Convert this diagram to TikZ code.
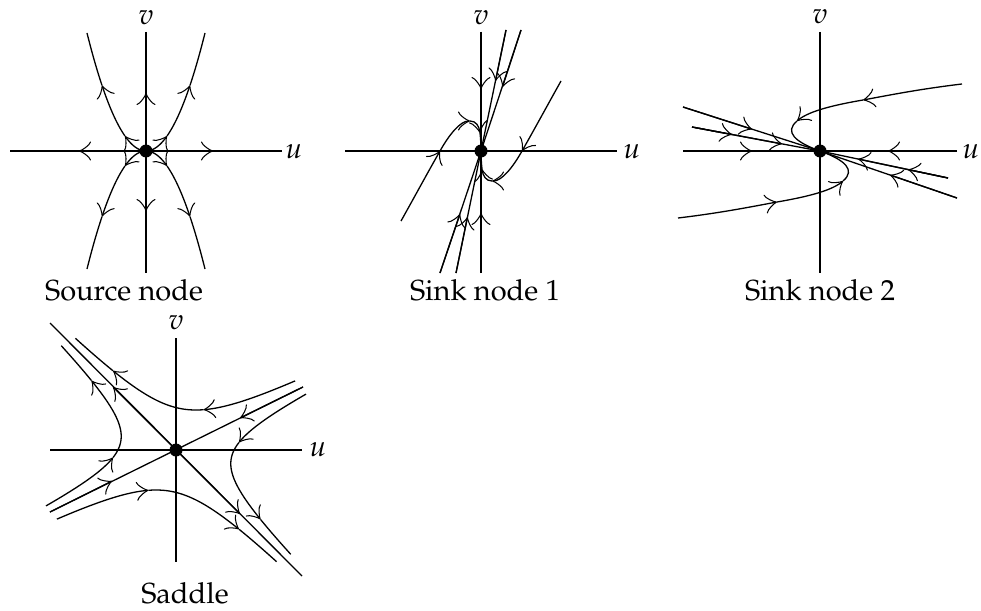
\documentclass[tikz,border=0pt]{standalone}
\usepackage[T1]{fontenc}
\usepackage{mathpazo}
\usetikzlibrary{arrows.meta}
\newcommand\pbranch[2]{%
  \draw[ar] plot[domain=0:21,samples=25] ({146+(#1)*\x},{151+(#2)*0.0339*\x*\x});
  \draw[ar] plot[domain=21:44,samples=25] ({146+(#1)*\x},{151+(#2)*0.0339*\x*\x});
  \draw[ln] plot[domain=44:59,samples=15] ({146+(#1)*\x},{151+(#2)*0.0339*\x*\x});}
\begin{document}
\begin{tikzpicture}[x=1pt,y=-1pt,
  ln/.style={line width=1.3pt},
  ar/.style={line width=1.3pt,-{Classical TikZ Rightarrow[length=12pt,width=19pt]}},
  lab/.style={font=\fontsize{29}{35}\selectfont, inner sep=0pt},
  dot/.style={fill=black}]
\useasboundingbox (0,0) rectangle (981,610);

% ---------- Source node ----------
\draw[ln] (10,151) -- (282,151);
\draw[ln] (146,32) -- (146,273);
\draw[ar] (146,151) -- (79,151);
\draw[ar] (146,151) -- (213,151);
\draw[ar] (146,151) -- (146,93);
\draw[ar] (146,151) -- (146,211);
\pbranch{1}{-1}
\pbranch{-1}{-1}
\pbranch{1}{1}
\pbranch{-1}{1}
\fill[dot] (146,151) circle (6.5pt);
\node[lab] (v1) at (146,18) {$v$};
\node[lab] (u1) at (294,152) {$u$};
\node[lab] (t1) at (124,290) {Source node};

% ---------- Sink node 1 ----------
\draw[ln] (345,151) -- (617,151);
\draw[ln] (481,32) -- (481,273);
\draw[ar] (481,32) -- (481,89);
\draw[ar] (481,273) -- (481,213);
% line A
\draw[ln] (506,30) -- (481,151) -- (456,273);
\draw[ar] (506,30) -- (495.5,81);
\draw[ar] (456,273) -- (467.5,217);
% line B
\draw[ln] (521,30) -- (481,151) -- (440,273);
\draw[ar] (521,30) -- (502.5,87);
\draw[ar] (440,273) -- (460,214);
\begin{scope}
  \draw[ar] (401,221) .. controls (415,196) and (428,172) .. (440,151);
  \draw[ar] (440,151) .. controls (449,135) and (460,121) .. (470,121);
  \draw[ar] (470,121) .. controls (476,121) and (479,126) .. (480,133);
  \draw[ln] (480,133) .. controls (480.7,139) and (481,145) .. (481,151);
\end{scope}
\begin{scope}[rotate around={180:(481,151)}]
  \draw[ar] (401,221) .. controls (415,196) and (428,172) .. (440,151);
  \draw[ar] (440,151) .. controls (449,135) and (460,121) .. (470,121);
  \draw[ar] (470,121) .. controls (476,121) and (479,126) .. (480,133);
  \draw[ln] (480,133) .. controls (480.7,139) and (481,145) .. (481,151);
\end{scope}
\fill[dot] (481,151) circle (6.5pt);
\node[lab] (v2) at (481,18) {$v$};
\node[lab] (u2) at (632,152) {$u$};
\node[lab] (t2) at (485,290) {Sink node 1};

% ---------- Sink node 2 ----------
\draw[ln] (683,151) -- (957,151);
\draw[ln] (820,32) -- (820,273);
\draw[ar] (683,151) -- (752,151);
\draw[ar] (957,151) -- (888,151);
% line A
\draw[ln] (683,107) -- (820,151) -- (957,198);
\draw[ar] (683,107) -- (752,129.2);
\draw[ar] (957,198) -- (890,175);
% line B
\draw[ln] (692,127) -- (820,151) -- (948,178);
\draw[ar] (692,127) -- (732,134.5);
\draw[ar] (692,127) -- (782,143.9);
\draw[ar] (948,178) -- (908,169.6);
\draw[ar] (948,178) -- (858,159);
\begin{scope}
  \draw[ar] (962,84) .. controls (920,89) and (890,95) .. (863,100);
  \draw[ar] (863,100) .. controls (840,104) and (810,110) .. (797,121);
  \draw[ln] (797,121) .. controls (784,132) and (795,142) .. (820,151);
\end{scope}
\begin{scope}[rotate around={180:(820,151)}]
  \draw[ar] (962,84) .. controls (920,89) and (890,95) .. (863,100);
  \draw[ar] (863,100) .. controls (840,104) and (810,110) .. (797,121);
  \draw[ln] (797,121) .. controls (784,132) and (795,142) .. (820,151);
\end{scope}
\fill[dot] (820,151) circle (6.5pt);
\node[lab] (v3) at (820,17) {$v$};
\node[lab] (u3) at (971,152) {$u$};
\node[lab] (t3) at (820,290) {Sink node 2};

% ---------- Saddle ----------
\draw[ln] (50,450) -- (302,450);
\draw[ln] (176,338) -- (176,562);
\draw[ln] (50,323) -- (302,576);
\draw[ln] (50,512) -- (303,387);
\draw[ar] (176,450) -- (113,387);
\draw[ar] (176,450) -- (240,514);
\draw[ar] (50,512) -- (112,481);
\draw[ar] (303,387) -- (240,418);
\begin{scope}
  % top hyperbola
  \draw[ar] plot[domain=-1.49:-0.47,samples=30] ({176-28.28*exp(\x)+28.28*exp(-(\x))},{450-28.28*exp(\x)-14.14*exp(-(\x))});
  \draw[ar] plot[domain=-0.47:0.96,samples=40] ({176-28.28*exp(\x)+28.28*exp(-(\x))},{450-28.28*exp(\x)-14.14*exp(-(\x))});
  \draw[ln] plot[domain=0.96:1.34,samples=15] ({176-28.28*exp(\x)+28.28*exp(-(\x))},{450-28.28*exp(\x)-14.14*exp(-(\x))});
  % left hyperbola
  \draw[ar] plot[domain=-1.51:-0.54,samples=30] ({176-27.39*exp(\x)-27.39*exp(-(\x))},{450-27.39*exp(\x)+13.69*exp(-(\x))});
  \draw[ar] plot[domain=-0.54:1.0,samples=40] ({176-27.39*exp(\x)-27.39*exp(-(\x))},{450-27.39*exp(\x)+13.69*exp(-(\x))});
  \draw[ln] plot[domain=1.0:1.37,samples=15] ({176-27.39*exp(\x)-27.39*exp(-(\x))},{450-27.39*exp(\x)+13.69*exp(-(\x))});
\end{scope}
\begin{scope}[rotate around={180:(176,450)}]
  \draw[ar] plot[domain=-1.49:-0.47,samples=30] ({176-28.28*exp(\x)+28.28*exp(-(\x))},{450-28.28*exp(\x)-14.14*exp(-(\x))});
  \draw[ar] plot[domain=-0.47:0.96,samples=40] ({176-28.28*exp(\x)+28.28*exp(-(\x))},{450-28.28*exp(\x)-14.14*exp(-(\x))});
  \draw[ln] plot[domain=0.96:1.34,samples=15] ({176-28.28*exp(\x)+28.28*exp(-(\x))},{450-28.28*exp(\x)-14.14*exp(-(\x))});
  \draw[ar] plot[domain=-1.51:-0.54,samples=30] ({176-27.39*exp(\x)-27.39*exp(-(\x))},{450-27.39*exp(\x)+13.69*exp(-(\x))});
  \draw[ar] plot[domain=-0.54:1.0,samples=40] ({176-27.39*exp(\x)-27.39*exp(-(\x))},{450-27.39*exp(\x)+13.69*exp(-(\x))});
  \draw[ln] plot[domain=1.0:1.37,samples=15] ({176-27.39*exp(\x)-27.39*exp(-(\x))},{450-27.39*exp(\x)+13.69*exp(-(\x))});
\end{scope}
\fill[dot] (176,450) circle (6.5pt);
\node[lab] (v4) at (176,323) {$v$};
\node[lab] (u4) at (318,450) {$u$};
\node[lab] (t4) at (185,593) {Saddle};
\end{tikzpicture}
\end{document}
